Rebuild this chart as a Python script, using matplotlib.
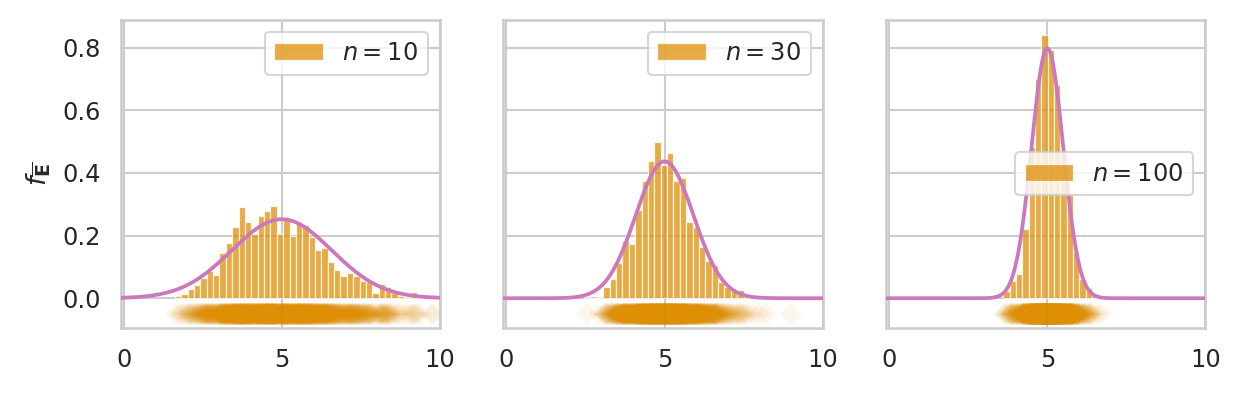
import numpy as np
import matplotlib
matplotlib.use("Agg")
import matplotlib.pyplot as plt
import seaborn as sns

# ---- data ----
sample_sizes = [10, 30, 100]
pop_mean = 5.0
pop_sd = 5.0
n_draws = 1000

bin_start_10 = 1.62
bin_width_10 = 0.2014
dens_10 = [0.0075, 0.015, 0.031, 0.041, 0.065, 0.086, 0.073, 0.145, 0.176, 0.226,
           0.290, 0.244, 0.205, 0.263, 0.279, 0.295, 0.206, 0.260, 0.199, 0.244,
           0.235, 0.196, 0.155, 0.160, 0.117, 0.091, 0.071, 0.082, 0.071, 0.055,
           0.052, 0.018, 0.045, 0.036, 0.016, 0.008, 0.005, 0.020, 0.005, 0.0, 0.010]

bin_start_30 = 2.46
bin_width_30 = 0.2015
dens_30 = [0.005, 0.0, 0.005, 0.035, 0.060, 0.114, 0.183, 0.172, 0.282, 0.373,
           0.438, 0.499, 0.425, 0.464, 0.373, 0.384, 0.243, 0.227, 0.163, 0.118,
           0.105, 0.051, 0.035, 0.022, 0.025, 0.010, 0.005, 0.005, 0.005, 0.0,
           0.0, 0.0, 0.005]

bin_start_100 = 3.61
bin_width_100 = 0.1997
dens_100 = [0.022, 0.056, 0.077, 0.221, 0.483, 0.701, 0.840, 0.792, 0.680, 0.453,
            0.330, 0.147, 0.060, 0.034, 0.010, 0.005]

hist_data = [(bin_start_10, bin_width_10, dens_10),
             (bin_start_30, bin_width_30, dens_30),
             (bin_start_100, bin_width_100, dens_100)]

xticks = [0, 5, 10]
yticks = [0.0, 0.2, 0.4, 0.6, 0.8]

# ---- style ----
sns.set_theme(style="whitegrid", palette="colorblind")
plt.rcParams['font.family'] = ['DejaVu Sans']
orange = "#de8f05"
purple = "#cc78bc"

fig, axes = plt.subplots(1, 3, figsize=(1241 / 150, 395 / 150), dpi=150, sharey=True)
fig.subplots_adjust(left=120.5 / 1241, right=1205.5 / 1241,
                    bottom=1 - 328 / 395, top=1 - 19.5 / 395,
                    wspace=63.5 / 319.7)

xs = np.linspace(-0.1, 10, 600)
locs = ["upper right", "upper right", "center right"]

for ax, n, (start, w, dens), loc in zip(axes, sample_sizes, hist_data, locs):
    dens = np.asarray(dens)
    lefts = start + w * np.arange(len(dens))
    ax.bar(lefts, dens, width=w, align="edge", color=orange, alpha=0.75,
           edgecolor="white", linewidth=0.6, label=f"$n = {n}$", zorder=2)
    sd = pop_sd / np.sqrt(n)
    pdf = np.exp(-0.5 * ((xs - pop_mean) / sd) ** 2) / (sd * np.sqrt(2 * np.pi))
    ax.plot(xs, pdf, color=purple, lw=1.8, zorder=3)
    # rug: the sample means of each bin, spread evenly across that bin
    counts = np.maximum(np.round(dens * n_draws * w), (dens > 0)).astype(int)
    rug = np.concatenate([left + (np.arange(c) + 0.5) / c * w
                          for left, c in zip(lefts, counts) if c > 0])
    ax.plot(rug, np.full(rug.shape, -0.05), "D", color=orange, alpha=0.08,
            ms=7.3, mew=0, zorder=2)
    ax.set_xlim(-0.1, 10)
    ax.set_xticks(xticks)
    ax.set_xticklabels([str(t) for t in xticks], fontsize=11.6)
    ax.tick_params(axis="y", labelsize=11.6)
    ax.legend(loc=loc, fontsize=11.6)

axes[0].set_ylim(-0.095, 0.89)
axes[0].set_yticks(yticks)
axes[0].set_yticklabels([f"{t:.1f}" for t in yticks])
axes[0].set_ylabel(r"$f_{\overline{\mathbf{E}}}$", fontsize=13)

fig.savefig("out.png", dpi=150)
